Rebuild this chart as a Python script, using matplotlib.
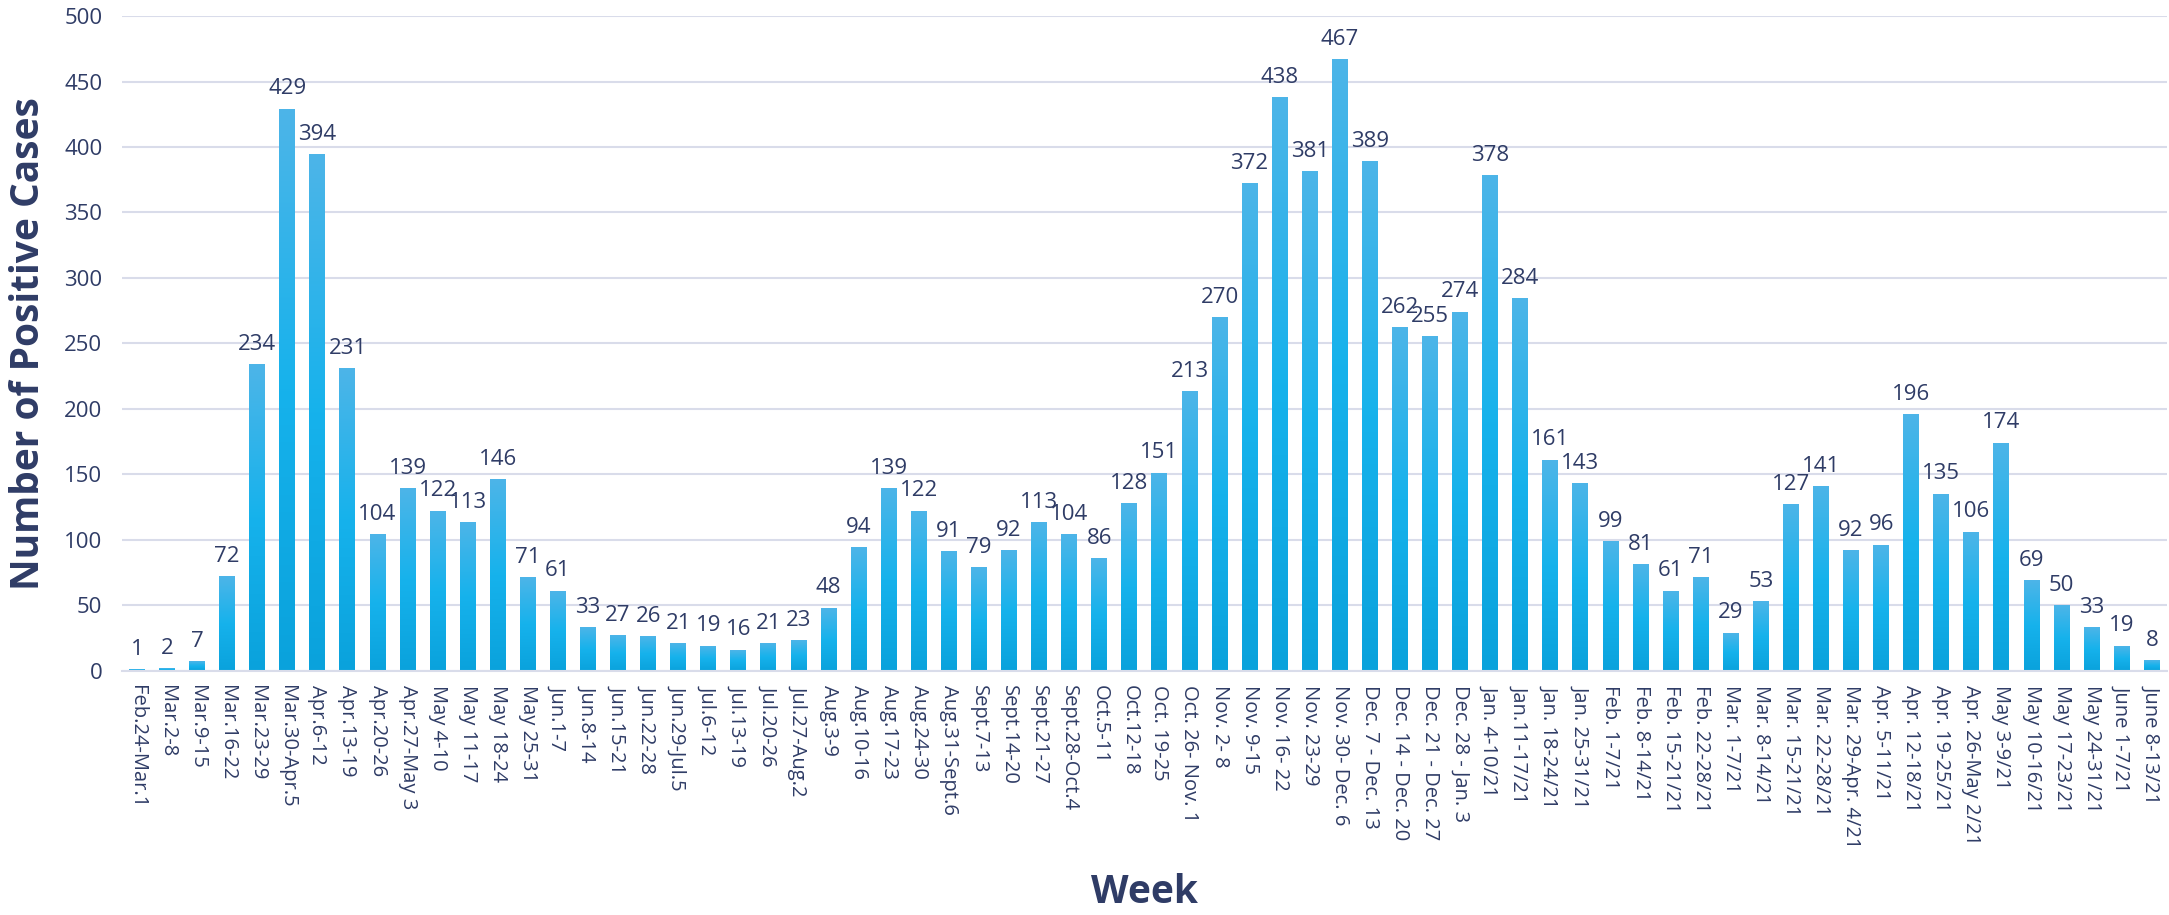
import numpy as np
import matplotlib
matplotlib.use("Agg")
import matplotlib.pyplot as plt
from matplotlib.colors import LinearSegmentedColormap

weeks = [
    "Feb.24-Mar.1", "Mar.2-8", "Mar.9-15", "Mar.16-22", "Mar.23-29", "Mar.30-Apr.5",
    "Apr.6-12", "Apr.13-19", "Apr.20-26", "Apr.27-May 3", "May 4-10", "May 11-17",
    "May 18-24", "May 25-31", "Jun.1-7", "Jun.8-14", "Jun.15-21", "Jun.22-28",
    "Jun.29-Jul.5", "Jul.6-12", "Jul.13-19", "Jul.20-26", "Jul.27-Aug.2", "Aug.3-9",
    "Aug.10-16", "Aug.17-23", "Aug.24-30", "Aug.31-Sept.6", "Sept.7-13", "Sept.14-20",
    "Sept.21-27", "Sept.28-Oct.4", "Oct.5-11", "Oct.12-18", "Oct. 19-25", "Oct. 26- Nov. 1",
    "Nov. 2- 8", "Nov. 9-15", "Nov. 16- 22", "Nov. 23-29", "Nov. 30- Dec. 6", "Dec. 7 - Dec. 13",
    "Dec. 14 - Dec. 20", "Dec. 21 - Dec. 27", "Dec. 28 - Jan. 3", "Jan. 4-10/21", "Jan.11-17/21",
    "Jan. 18-24/21", "Jan. 25-31/21", "Feb. 1-7/21", "Feb. 8-14/21", "Feb. 15-21/21",
    "Feb. 22-28/21", "Mar. 1-7/21", "Mar. 8-14/21", "Mar. 15-21/21", "Mar. 22-28/21",
    "Mar. 29-Apr. 4/21", "Apr. 5-11/21", "Apr. 12-18/21", "Apr. 19-25/21", "Apr. 26-May 2/21",
    "May 3-9/21", "May 10-16/21", "May 17-23/21", "May 24-31/21", "June 1-7/21", "June 8-13/21",
]

cases = [
    1, 2, 7, 72, 234, 429, 394, 231, 104, 139, 122, 113, 146, 71, 61, 33, 27, 26,
    21, 19, 16, 21, 23, 48, 94, 139, 122, 91, 79, 92, 113, 104, 86, 128, 151, 213,
    270, 372, 438, 381, 467, 389, 262, 255, 274, 378, 284, 161, 143, 99, 81, 61,
    71, 29, 53, 127, 141, 92, 96, 196, 135, 106, 174, 69, 50, 33, 19, 8,
]

y_ticks = [0, 50, 100, 150, 200, 250, 300, 350, 400, 450, 500]

text_color = "#2f3c66"
grid_color = "#d9dcea"
plt.rcParams["font.family"] = ["Open Sans", "DejaVu Sans"]

fig = plt.figure(figsize=(21.69, 9.15), dpi=100)
ax = fig.add_axes([0.0562, 0.2667, 0.9428, 0.7158])

x = np.arange(len(weeks))
bars = ax.bar(x, cases, width=0.53, color="#17afe9", zorder=2)

# vertical gradient inside each bar (light on top, deeper blue at the base)
cmap = LinearSegmentedColormap.from_list("bar", ["#0aa2dc", "#16b2ec", "#4db5e8"])
grad = np.linspace(0, 1, 256).reshape(-1, 1)
for b in bars:
    x0, y0 = b.get_x(), b.get_y()
    x1, y1 = x0 + b.get_width(), y0 + b.get_height()
    b.set_facecolor("none")
    ax.imshow(grad, extent=[x0, x1, y0, y1], origin="lower", aspect="auto",
              cmap=cmap, zorder=2, interpolation="bilinear")

for xi, v in zip(x, cases):
    ax.annotate(str(v), (xi, v), xytext=(0, 7), textcoords="offset points",
                ha="center", va="bottom", fontsize=16, color=text_color)

ax.set_xlim(-0.5, len(weeks) - 0.5)
ax.set_ylim(0, 500)
ax.set_yticks(y_ticks)
ax.set_xticks(x)
ax.set_xticklabels(weeks, rotation=-90, fontsize=14.5, color=text_color)
ax.tick_params(axis="y", labelsize=16, labelcolor=text_color, length=0, pad=14)
ax.tick_params(axis="x", length=0, pad=10)

ax.grid(axis="y", color=grid_color, linewidth=1.5, zorder=0)
ax.set_axisbelow(True)
for side in ["top", "right", "left"]:
    ax.spines[side].set_visible(False)
ax.spines["bottom"].set_color(grid_color)
ax.spines["bottom"].set_linewidth(1.5)

ax.set_ylabel("Number of Positive Cases", fontsize=28, fontweight="bold",
              color=text_color, labelpad=12)
ax.set_xlabel("Week", fontsize=28, fontweight="bold", color=text_color, labelpad=18)

fig.savefig("out.png", dpi=100)
